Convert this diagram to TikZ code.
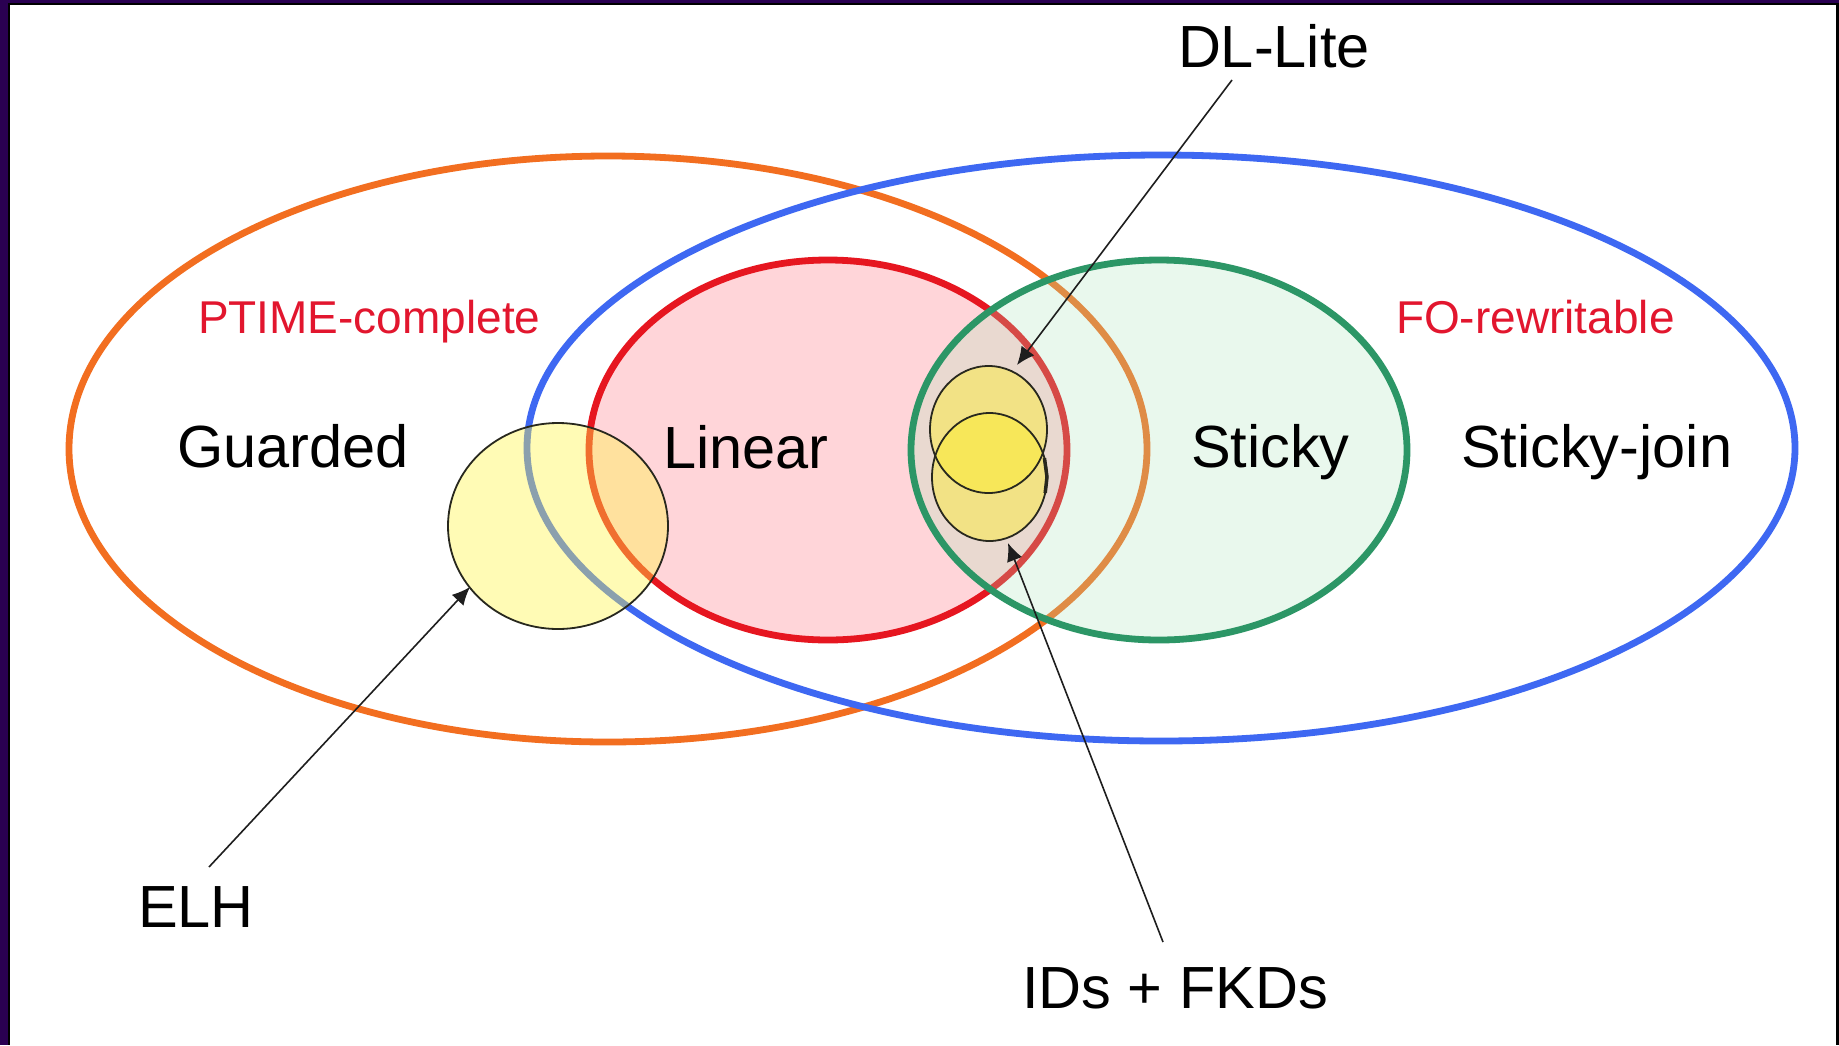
\documentclass[tikz,border=0pt]{standalone}
\usepackage{fontspec}
\setmainfont{Liberation Sans}
\usetikzlibrary{arrows.meta,shapes.geometric}
\definecolor{framepurple}{RGB}{42,0,82}
\definecolor{orangec}{RGB}{242,110,32}
\definecolor{bluec}{RGB}{62,104,242}
\definecolor{redc}{RGB}{230,22,32}
\definecolor{greenc}{RGB}{44,150,102}
\definecolor{pinkfill}{RGB}{255,213,217}
\definecolor{greenfill}{RGB}{168,230,184}
\definecolor{redtext}{RGB}{226,22,46}
\definecolor{elhyellow}{RGB}{255,245,70}
\definecolor{dlyellow}{RGB}{255,240,30}
\definecolor{circline}{RGB}{40,40,30}
\definecolor{arrowc}{RGB}{30,30,30}
\begin{document}
\begin{tikzpicture}[x=1pt,y=-1pt,
  bigset/.style={line width=6.8pt},
  setcirc/.style={ellipse, inner sep=0pt, outer sep=0pt},
  outline/.style={draw=circline, line width=1.8pt},
  lab/.style={inner sep=0pt, outer sep=0pt, anchor=base west, font=\fontsize{59.5}{62}\selectfont},
  redlab/.style={lab, font=\fontsize{46}{48}\selectfont, text=redtext},
  pointer/.style={draw=arrowc, line width=1.6pt, -{Latex[length=18pt,width=16pt]}}]
\useasboundingbox (0,0) rectangle (1839,1045);
% frame
\fill[framepurple] (0,0) rectangle (1839,1045);
\fill[black] (8,3) rectangle (1839,1045);
\fill[white] (10,5) rectangle (1836,1045);
% big sets
\draw[orangec, bigset] (608,449) ellipse [x radius=539pt, y radius=293pt];
\draw[bluec, bigset] (1161,448) ellipse [x radius=634pt, y radius=293pt];
\fill[pinkfill] (828,450) ellipse [x radius=239pt, y radius=190pt];
\draw[redc, bigset] (828,450) ellipse [x radius=239pt, y radius=190pt];
\fill[greenfill, fill opacity=0.25] (1159,450) ellipse [x radius=248pt, y radius=190pt];
\draw[greenc, bigset] (1159,450) ellipse [x radius=248pt, y radius=190pt];
% small sets
\node[setcirc, minimum width=117pt, minimum height=127pt, fill=dlyellow, fill opacity=0.42] (dl-set) at (988.5,429.5) {};
\node[setcirc, minimum width=115pt, minimum height=128pt, fill=dlyellow, fill opacity=0.42] (ids-set) at (989.5,477) {};
\draw[outline] (dl-set.center) ellipse [x radius=58.5pt, y radius=63.5pt];
\draw[outline] (ids-set.center) ellipse [x radius=57.5pt, y radius=64pt];
\draw[circline, line width=3.5pt] (ids-set.19) -- (ids-set.0) -- (ids-set.-16);
\node[setcirc, minimum width=220pt, minimum height=206pt, fill=elhyellow, fill opacity=0.4, outline] (elh-set) at (558,526) {};
% labels
\node[lab] (dl-lab) at (1178,67) {DL-Lite};
\node[redlab] (ptime) at (198,333) {PTIME-complete};
\node[redlab] (fo) at (1396,333) {FO-rewritable};
\node[lab] (guarded) at (177,467) {Guarded};
\node[lab] (linear) at (663,468) {Linear};
\node[lab] (sticky) at (1191,467) {Sticky};
\node[lab] (stickyjoin) at (1461,467) {Sticky-join};
\node[lab] (elh-lab) at (138,927) {ELH};
\node[lab] (ids-lab) at (1022,1008) {IDs + FKDs};
% arrow tips
\coordinate (dltip) at (1017,365);
\coordinate (idstip) at (1008,543);
\coordinate (elhtip) at (470,587);
% arrows
\draw[pointer] ([shift={(54,13)}]dl-lab.base west) -- (dltip);
\draw[pointer] ([shift={(141,-66)}]ids-lab.base west) -- (idstip);
\draw[pointer] ([shift={(71,-60)}]elh-lab.base west) -- (elhtip);
\end{tikzpicture}
\end{document}
